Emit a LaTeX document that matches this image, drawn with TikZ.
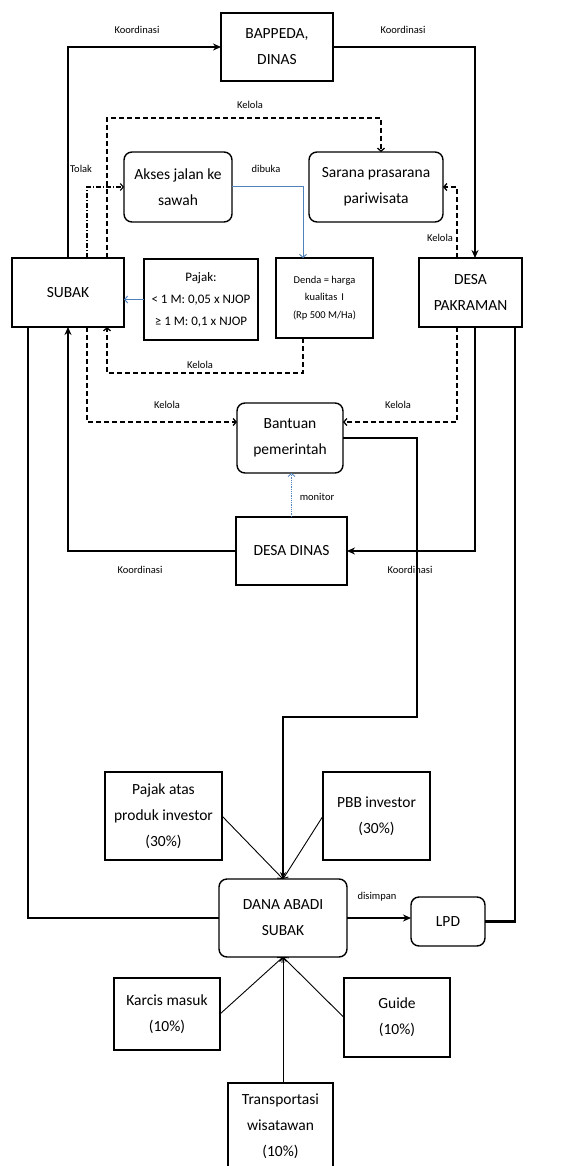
\documentclass[tikz,border=0pt]{standalone}
\usepackage{fontspec}
\setmainfont{Carlito}
\usepackage{tikz}
\usetikzlibrary{arrows.meta,positioning,calc}
\newcommand{\boxfont}{\fontsize{15.5}{26}\selectfont}
\newcommand{\pjfont}{\fontsize{13}{22}\selectfont}
\newcommand{\ddfont}{\fontsize{10.5}{17.5}\selectfont}
\newcommand{\lblfont}{\fontsize{10.5}{12}\selectfont}
\tikzset{box/.style={draw, line width=1.4pt, align=center, inner sep=2pt, outer sep=0pt, font=\boxfont}}
\tikzset{rbox/.style={box, rounded corners=8pt}}
\tikzset{lbl/.style={draw=none, fill=none, inner sep=1pt, font=\lblfont}}
\tikzset{thk/.style={-{Stealth[length=8pt,width=7pt]}, line width=2.2pt}}
\tikzset{med/.style={-{Stealth[length=7pt,width=6pt]}, line width=1.6pt}}
\tikzset{thn/.style={-{Straight Barb[length=4pt,width=7pt]}, line width=0.9pt}}
\tikzset{dsh/.style={-{Straight Barb[length=3pt,width=7pt]}, line width=1.3pt, dash pattern=on 5pt off 3pt}}
\tikzset{dshdot/.style={-{Straight Barb[length=3pt,width=7pt]}, line width=1.1pt, dash pattern=on 5pt off 2pt on 1pt off 2pt}}
\tikzset{blu/.style={-{Straight Barb[length=3pt,width=7pt]}, line width=1pt, cblue}}
\tikzset{mon/.style={-{Straight Barb[length=3pt,width=7pt]}, line width=0.8pt, cblue, densely dotted}}
\definecolor{cblue}{RGB}{79,129,189}

\begin{document}
\begin{tikzpicture}[x=1pt, y=-1pt]
        \useasboundingbox (0,0) rectangle (560,1166);

        %%% TOP: BAPPEDA + WISATA %%%
        \node[box, minimum width=112, minimum height=68] (bap) at (277,47) {BAPPEDA,\\DINAS};
        \node[rbox, minimum width=108, minimum height=70] (akses) at (178,187) {Akses jalan ke\\sawah};
        \node[rbox, minimum width=134, minimum height=70] (sarana) at (376,187) {Sarana prasarana\\pariwisata};

        %%% ROW 2: SUBAK ... PAKRAMAN %%%
        \node[box, minimum width=112, minimum height=69] (subak) at (68,292.5) {SUBAK};
        \node[box, minimum width=114, minimum height=81, font=\pjfont] (pajak) at (201,299.5)
            {Pajak:\\< 1 M: 0,05 x NJOP\\≥ 1 M: 0,1 x NJOP};
        \node[box, minimum width=97, minimum height=80, font=\ddfont] (denda) at (324.5,298)
            {Denda = harga\\kualitas\, I\\(Rp 500 M/Ha)};
        \node[box, minimum width=103, minimum height=69] (pakraman) at (470.5,292.5) {DESA\\PAKRAMAN};

        %%% ROW 3: BANTUAN + DESA DINAS %%%
        \node[rbox, minimum width=106, minimum height=70] (bantuan) at (290,438) {Bantuan\\pemerintah};
        \node[box, minimum width=111, minimum height=68] (dinas) at (291.5,551) {DESA DINAS};

        %%% BOTTOM: DANA ABADI %%%
        \node[box, minimum width=117, minimum height=88] (pjinv) at (163.5,816) {Pajak atas\\produk investor\\(30\%)};
        \node[box, minimum width=107, minimum height=88] (pbb) at (376.5,816) {PBB investor\\(30\%)};
        \node[rbox, minimum width=128, minimum height=78] (dana) at (283,918) {DANA ABADI\\SUBAK};
        \node[rbox, minimum width=74, minimum height=49] (lpd) at (448,921.5) {LPD};
        \node[box, minimum width=106, minimum height=72] (karcis) at (167,1014) {Karcis masuk\\(10\%)};
        \node[box, minimum width=106, minimum height=79] (guide) at (397,1017.5) {Guide\\(10\%)};
        \node[box, minimum width=105, minimum height=86] (transp) at (280.5,1126) {Transportasi\\wisatawan\\(10\%)};

        %%% KOORDINASI %%%
        \draw[thk] (subak.north) |- (bap.west);
        \node[lbl] (kor1) at (137,30) {Koordinasi};
        \draw[thk] (bap.east) -| ([xshift=4.5pt]pakraman.north);
        \node[lbl] (kor2) at (403,30) {Koordinasi};
        \draw[thk] (dinas.west) -| (subak.south);
        \node[lbl] (kor3) at (140,570) {Koordinasi};
        \draw[thk] ([xshift=4.5pt]pakraman.south) |- (dinas.east);
        \node[lbl] (kor4) at (410,570) {Koordinasi};

        %%% KELOLA / TOLAK %%%
        \draw[dsh] ([xshift=39pt]subak.north) -- ++(0,-140) -| ([xshift=5pt]sarana.north);
        \node[lbl] (kel1) at (250,105) {Kelola};
        \draw[dshdot] ([xshift=19pt]subak.north) |- (akses.west);
        \node[lbl] (tolak) at (81,169) {Tolak};
        \draw[dsh] ([xshift=-13.5pt]pakraman.north) |- (sarana.east);
        \node[lbl] (kel2) at (440,238) {Kelola};
        \draw[dsh] ([xshift=-21.5pt]denda.south) -- ++(0,35) -| ([xshift=39pt]subak.south);
        \node[lbl] (kel3) at (200,365) {Kelola};
        \draw[dsh] ([xshift=19pt]subak.south) |- ([yshift=16pt]bantuan.west);
        \node[lbl] (kel4) at (167,405) {Kelola};
        \draw[dsh] ([xshift=-13.5pt]pakraman.south) |- ([yshift=16pt]bantuan.east);
        \node[lbl] (kel5) at (398,405) {Kelola};

        %%% BLUE %%%
        \draw[blu] (akses.east) -| ([xshift=-21.5pt]denda.north);
        \node[lbl] (dibuka) at (266,169) {dibuka};
        \draw[blu] (pajak.west) -- (pajak.west -| subak.east);
        \draw[mon] (dinas.north) -- (dinas.north |- bantuan.south);
        \node[lbl] (monitor) at (317,497) {monitor};

        %%% DANA ABADI FLOWS %%%
        \draw[med] (bantuan.east) -- ++(74,0) -- ++(0,279) -| (dana.north);
        \draw[thk, -] ([xshift=-40pt]subak.south) |- (dana.west);
        \draw[thk] (dana.east) -- (dana.east -| lpd.west);
        \node[lbl] (simpan) at (377,897) {disimpan};
        \draw[thk, -] (lpd.east) -| ([xshift=44.5pt]pakraman.south);
        \draw[thn] (pjinv.east) -- (dana.north);
        \draw[thn] (pbb.west) -- (dana.north);
        \draw[thn] (karcis.east) -- (dana.south);
        \draw[thn] (guide.west) -- (dana.south);
        \draw[thn] (transp.north -| dana.south) -- (dana.south);
    \end{tikzpicture}
\end{document}
